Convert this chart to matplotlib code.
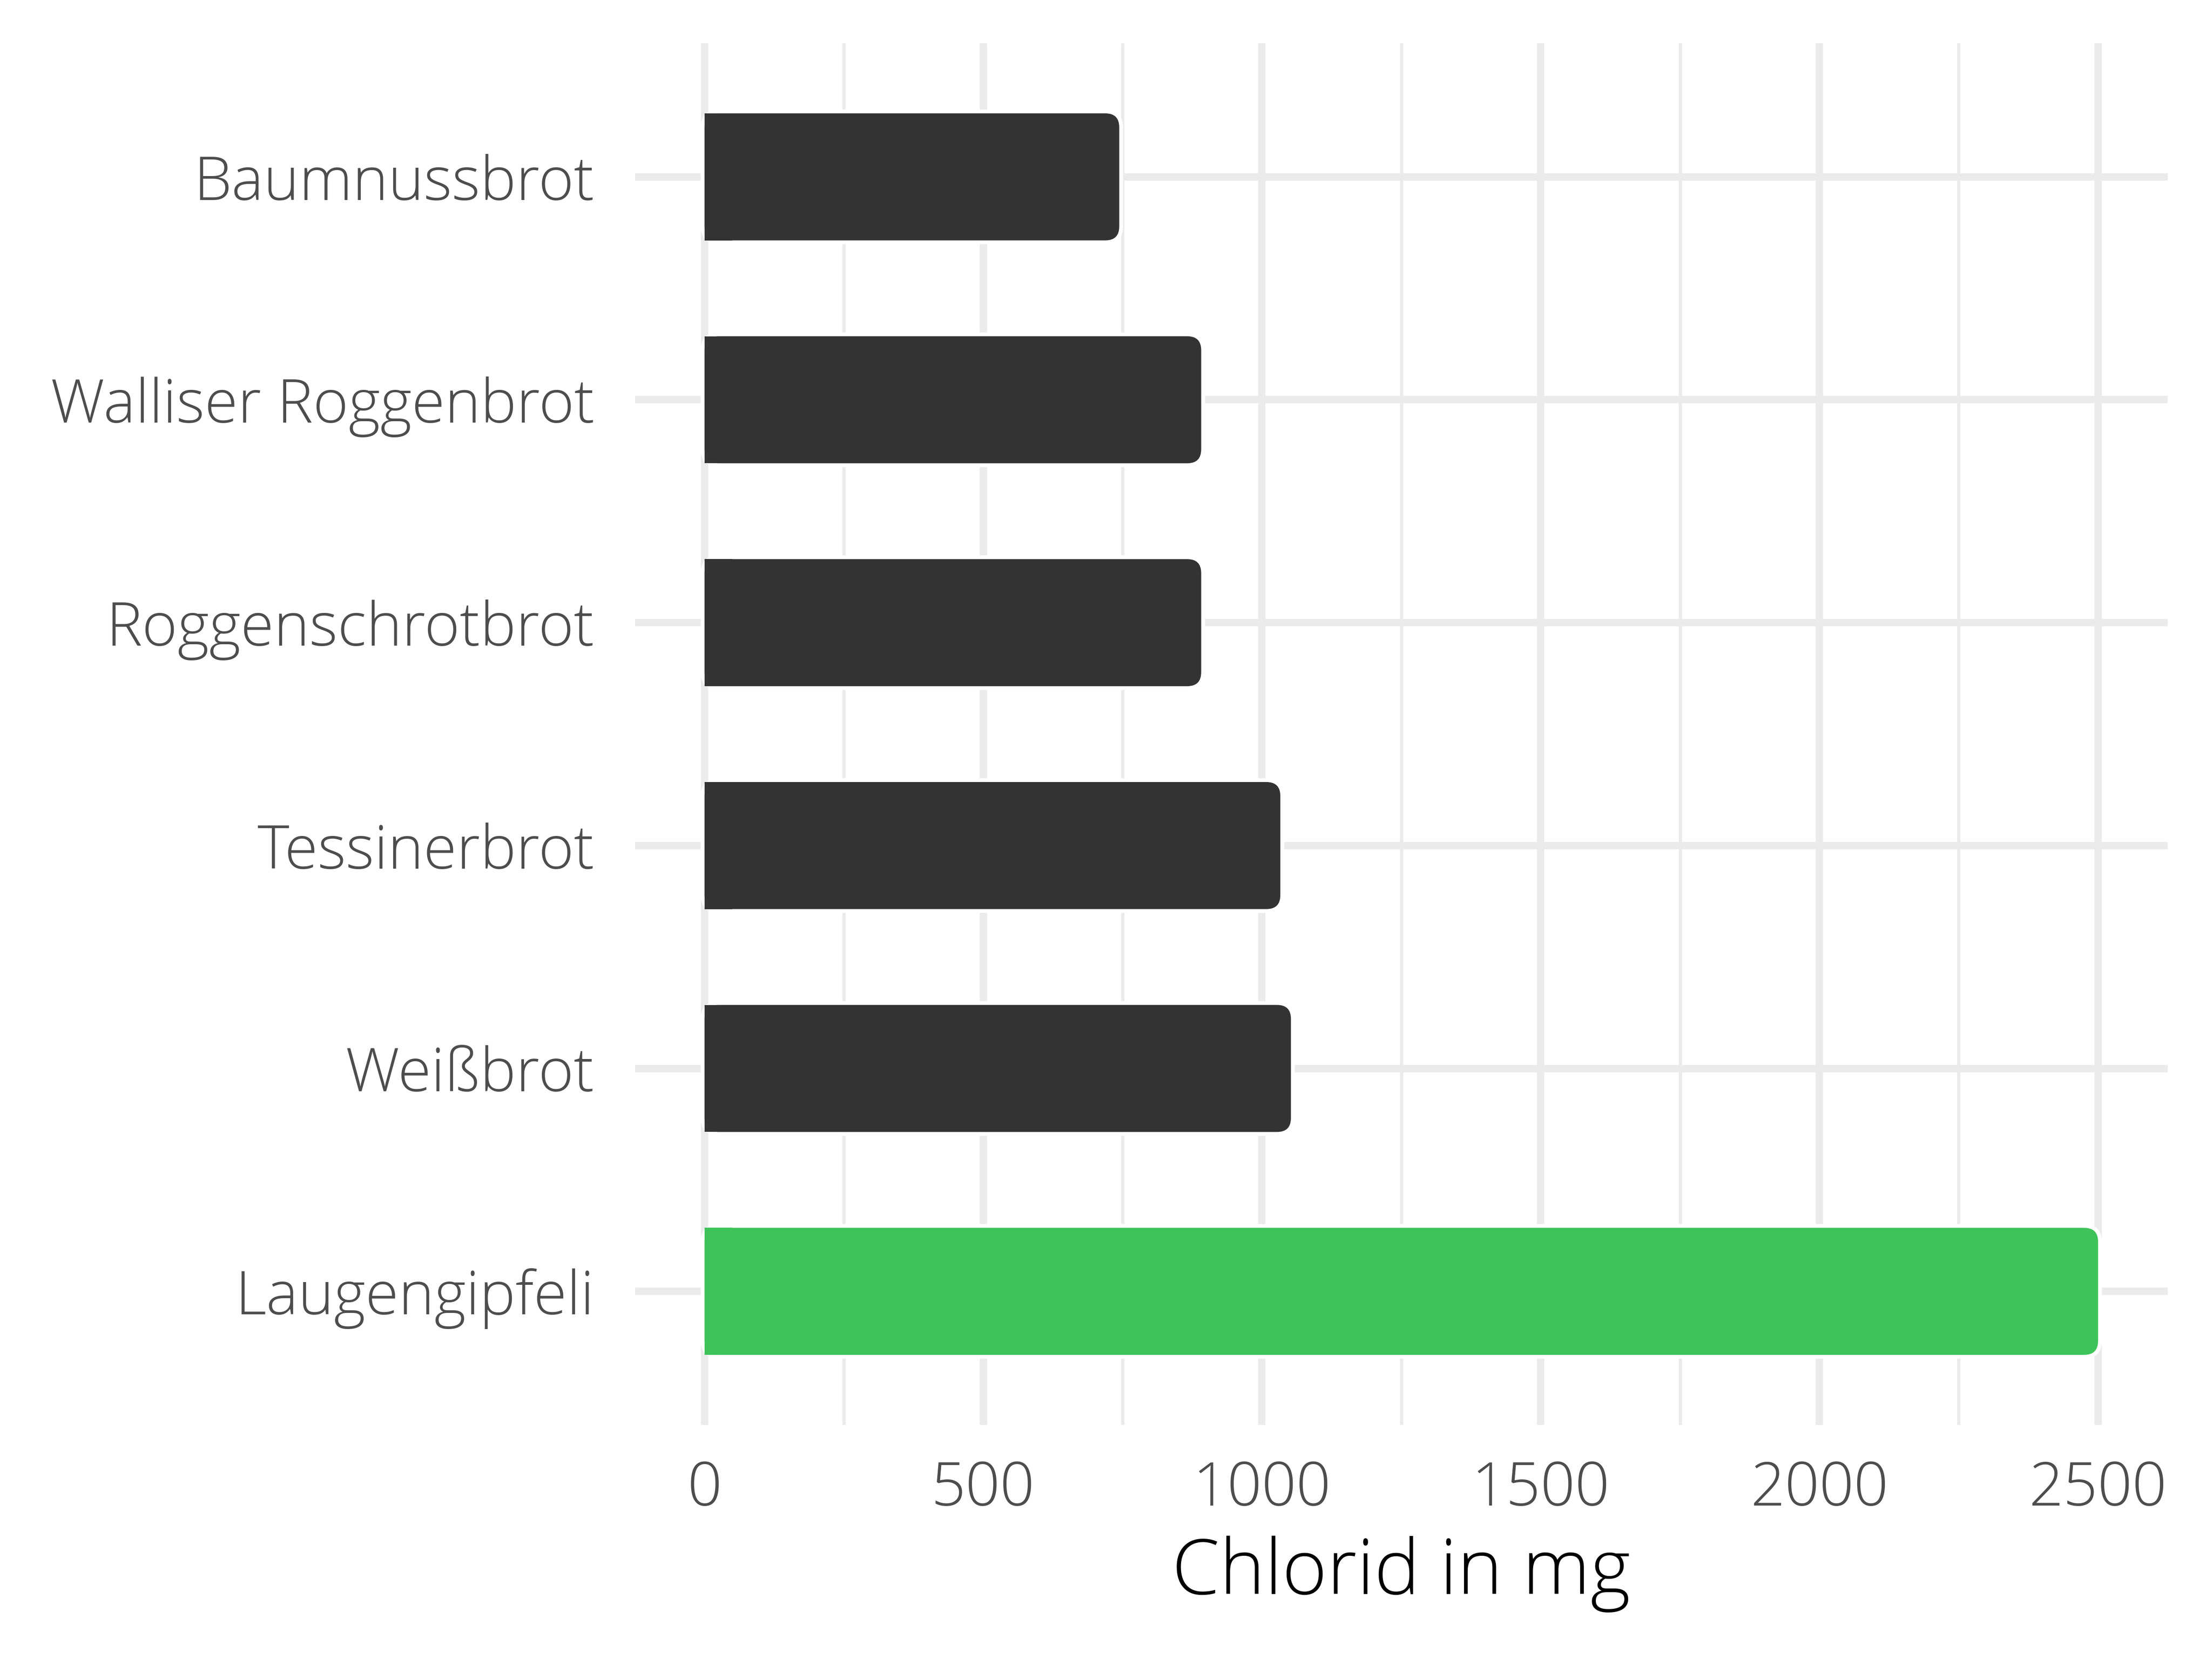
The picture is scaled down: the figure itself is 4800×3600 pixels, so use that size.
import numpy as np
import matplotlib
matplotlib.use('Agg')
import matplotlib.pyplot as plt
from matplotlib.patches import FancyBboxPatch, Rectangle

# Daten (Chlorid in mg)
categories = ['Baumnussbrot', 'Walliser Roggenbrot', 'Roggenschrotbrot',
              'Tessinerbrot', 'Weißbrot', 'Laugengipfeli']
values = [744, 891, 891, 1033, 1052, 2500]
bar_colors = ['#333333', '#333333', '#333333', '#333333', '#333333', '#3EC35A']
xticks = [0, 500, 1000, 1500, 2000, 2500]

plt.rcParams['font.family'] = ['Open Sans', 'DejaVu Sans']

fig = plt.figure(figsize=(16, 12), dpi=300)
ax = fig.add_axes([0.287, 0.141, 0.693, 0.833])

grid_col = '#EBEBEB'
pos = np.arange(len(categories))

ax.set_xlim(-125, 2625)
ax.set_ylim(len(categories) - 0.4, -0.6)

# Gitter
for x in xticks:
	ax.axvline(x, color=grid_col, lw=3.8, zorder=0)
for x in np.arange(250, 2500, 500):
	ax.axvline(x, color=grid_col, lw=1.7, zorder=0)
for y in pos:
	ax.axhline(y, color=grid_col, lw=3.8, zorder=0)

bars = ax.barh(pos, values, height=0.57, color=bar_colors, alpha=0)

# abgerundete Balken (rechts rund)
fig.canvas.draw()
px_x = ax.transData.transform([(1, 0)])[0][0] - ax.transData.transform([(0, 0)])[0][0]
px_y = abs(ax.transData.transform([(0, 1)])[0][1] - ax.transData.transform([(0, 0)])[0][1])
aspect = px_x / px_y
r = 25
for b, c in zip(bars, bar_colors):
	x0, y0 = b.get_x(), b.get_y()
	w, h = b.get_width(), b.get_height()
	for fc, ec, lw, z in [('white', 'white', 4.0, 2), (c, 'none', 0, 3)]:
		p = FancyBboxPatch((x0, y0), w, h,
			boxstyle='round,pad=0,rounding_size=%g' % r,
			mutation_aspect=aspect, fc=fc, ec=ec, lw=lw, zorder=z)
		ax.add_patch(p)
	ax.add_patch(Rectangle((x0, y0), r * 2, h, fc=c, ec='none', zorder=3))

for s in ax.spines.values():
	s.set_visible(False)

ax.set_yticks(pos)
ax.set_yticklabels(categories)
ax.set_xticks(xticks)
ax.set_xticklabels([str(v) for v in xticks])
ax.tick_params(axis='both', length=0, labelsize=31.5, labelcolor='#4D4D4D')
ax.tick_params(axis='y', pad=21)
ax.tick_params(axis='x', pad=18)
for lab in ax.get_xticklabels() + ax.get_yticklabels():
	lab.set_fontweight('light')

ax.set_xlabel('Chlorid in mg', fontsize=40, color='black', fontweight='light', labelpad=8)

fig.savefig('out.png', dpi=300, facecolor='white')
